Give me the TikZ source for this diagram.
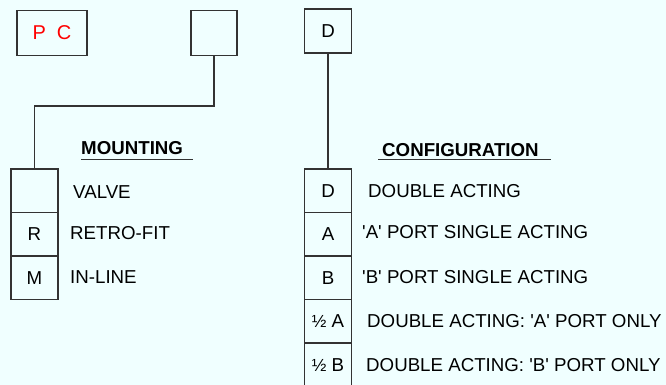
\documentclass[tikz,border=0pt]{standalone}
\usepackage{fontspec}
\setmainfont{Liberation Sans}[Ligatures=TeXOff]
\usetikzlibrary{positioning}
\definecolor{sfondo}{HTML}{F0FFFF}
\definecolor{linea}{HTML}{333333}

\begin{document}
\begin{tikzpicture}[x=1pt,y=-1pt,font=\fontsize{18.7}{22}\selectfont,
  casella/.style={draw=linea,line width=1.3pt,minimum width=47pt,minimum height=43.5pt,inner sep=0pt,outer sep=0pt},
  voce/.style={anchor=base west,inner sep=0pt},
  titolo/.style={anchor=base west,inner sep=0pt,font=\fontsize{18.7}{22}\selectfont\bfseries}]

\fill[sfondo] (0,0) rectangle (666,385);
\useasboundingbox (0,0) rectangle (666,385);

% codice in alto
\node[casella,minimum width=70pt,minimum height=45pt,text=red,font=\fontsize{20}{24}\selectfont] (pc) at (52,33) {P\ \ C};
\node[casella,minimum width=46pt,minimum height=45pt] (vuoto) at (214,33) {};
\node[casella,minimum height=44pt] (conf) at (328,31) {D};

% colonna montaggio
\node[casella] (mont1) at (34.5,190.75) {};
\node[casella,below=0pt of mont1] (mont2) {R};
\node[casella,below=0pt of mont2] (mont3) {M};

\coordinate (gomito) at (34.5,106);
\draw[linea,line width=1.3pt] (vuoto.south) |- (gomito) -- (mont1.north);

\node[titolo] (tmont) at (81,154) {MOUNTING};
\draw[linea,line width=1pt] (81,159) -- (193,159);
\node[voce] (valve) at (73,198) {VALVE};
\node[voce] (retro) at (70,239) {RETRO-FIT};
\node[voce] (inline) at (70,283) {IN-LINE};

% colonna configurazione
\node[casella] (cfg1) at (328,190.75) {D};
\node[casella,below=0pt of cfg1] (cfg2) {A};
\node[casella,below=0pt of cfg2] (cfg3) {B};
\node[casella,below=0pt of cfg3] (cfg4) {{\fontsize{17.5}{20}\selectfont ½} A};
\node[casella,below=0pt of cfg4] (cfg5) {{\fontsize{17.5}{20}\selectfont ½} B};

\draw[linea,line width=1.3pt] (conf.south) -- (cfg1.north);

\node[titolo] (tcfg) at (382,156) {CONFIGURATION};
\draw[linea,line width=1pt] (378,159) -- (551,159);
\node[voce] (doppio) at (368,197) {DOUBLE ACTING};
\node[voce] (portaA) at (362,238) {'A' PORT SINGLE ACTING};
\node[voce] (portaB) at (362,283) {'B' PORT SINGLE ACTING};
\node[voce] (solaA) at (367,327) {DOUBLE ACTING: 'A' PORT ONLY};
\node[voce] (solaB) at (366,371) {DOUBLE ACTING: 'B' PORT ONLY};

\end{tikzpicture}
\end{document}
